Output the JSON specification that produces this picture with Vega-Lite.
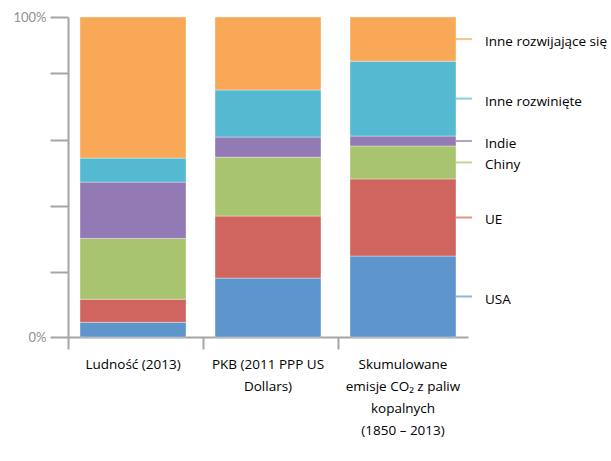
{
  "$schema": "https://vega.github.io/schema/vega-lite/v6.json",
  "width": 400,
  "height": 320,
  "autosize": {"type": "none"},
  "padding": {"left": 68, "top": 17, "right": 143, "bottom": 124},
  "background": "white",
  "config": {"view": {"stroke": null}},
  "data": {
    "values": [
      {"kategoria": "Ludność (2013)", "seria": "USA", "udzial": 4.6},
      {"kategoria": "Ludność (2013)", "seria": "UE", "udzial": 7.2},
      {"kategoria": "Ludność (2013)", "seria": "Chiny", "udzial": 19.0},
      {"kategoria": "Ludność (2013)", "seria": "Indie", "udzial": 17.6},
      {"kategoria": "Ludność (2013)", "seria": "Inne rozwinięte", "udzial": 7.5},
      {"kategoria": "Ludność (2013)", "seria": "Inne rozwijające się", "udzial": 44.1},
      {"kategoria": "PKB (2011 PPP US Dollars)", "seria": "USA", "udzial": 18.4},
      {"kategoria": "PKB (2011 PPP US Dollars)", "seria": "UE", "udzial": 19.4},
      {"kategoria": "PKB (2011 PPP US Dollars)", "seria": "Chiny", "udzial": 18.4},
      {"kategoria": "PKB (2011 PPP US Dollars)", "seria": "Indie", "udzial": 6.3},
      {"kategoria": "PKB (2011 PPP US Dollars)", "seria": "Inne rozwinięte", "udzial": 14.7},
      {"kategoria": "PKB (2011 PPP US Dollars)", "seria": "Inne rozwijające się", "udzial": 22.8},
      {"kategoria": "Skumulowane emisje CO₂ z paliw kopalnych (1850 – 2013)", "seria": "USA", "udzial": 25.3},
      {"kategoria": "Skumulowane emisje CO₂ z paliw kopalnych (1850 – 2013)", "seria": "UE", "udzial": 24.1},
      {"kategoria": "Skumulowane emisje CO₂ z paliw kopalnych (1850 – 2013)", "seria": "Chiny", "udzial": 10.3},
      {"kategoria": "Skumulowane emisje CO₂ z paliw kopalnych (1850 – 2013)", "seria": "Indie", "udzial": 3.1},
      {"kategoria": "Skumulowane emisje CO₂ z paliw kopalnych (1850 – 2013)", "seria": "Inne rozwinięte", "udzial": 23.4},
      {"kategoria": "Skumulowane emisje CO₂ z paliw kopalnych (1850 – 2013)", "seria": "Inne rozwijające się", "udzial": 13.8}
    ]
  },
  "transform": [
    {"calculate": "indexof(['USA','UE','Chiny','Indie','Inne rozwinięte','Inne rozwijające się'], datum.seria)", "as": "kolejnosc"}
  ],
  "encoding": {
    "x": {
      "field": "kategoria",
      "type": "nominal",
      "sort": null,
      "scale": {"paddingInner": 0.215, "paddingOuter": 0.089},
      "axis": {
        "title": null,
        "labelAngle": 0,
        "domainColor": "#a6a6a6",
        "domainWidth": 2,
        "tickColor": "#a6a6a6",
        "tickWidth": 2,
        "tickSize": 12,
        "bandPosition": -0.11,
        "labelPadding": 8,
        "labelBaseline": "top",
        "labelFont": "Open Sans",
        "labelFontSize": 13.5,
        "labelColor": "#000000",
        "labelLineHeight": 22,
        "labelExpr": "datum.value == 'PKB (2011 PPP US Dollars)' ? ['PKB (2011 PPP US', 'Dollars)'] : (indexof(datum.value, 'Skumulowane') == 0 ? ['Skumulowane', 'emisje CO₂ z paliw', 'kopalnych', '(1850 – 2013)'] : datum.label)"
      }
    },
    "color": {
      "field": "seria",
      "type": "nominal",
      "legend": null,
      "scale": {
        "domain": ["USA", "UE", "Chiny", "Indie", "Inne rozwinięte", "Inne rozwijające się"],
        "range": ["#5e95cc", "#cf655e", "#a9c46e", "#927ab4", "#55bad1", "#f9a858"]
      }
    }
  },
  "layer": [
    {
      "mark": {"type": "bar", "stroke": "#ffffff", "strokeWidth": 0.6, "strokeOpacity": 0.6},
      "encoding": {
        "y": {
          "field": "udzial",
          "type": "quantitative",
          "stack": "normalize",
          "scale": {"domain": [0, 1], "nice": false},
          "axis": {
            "title": null,
            "grid": false,
            "values": [0, 0.203, 0.41, 0.616, 0.825, 1],
            "labelExpr": "datum.value == 0 ? '0%' : (datum.value == 1 ? '100%' : '')",
            "domainColor": "#a6a6a6",
            "domainWidth": 2,
            "tickColor": "#a6a6a6",
            "tickWidth": 2,
            "tickSize": 18,
            "labelPadding": 4,
            "labelFont": "Lato",
            "labelFontSize": 13,
            "labelColor": "#909090"
          }
        },
        "order": {"field": "kolejnosc", "type": "quantitative"}
      }
    },
    {
      "transform": [
        {"stack": "udzial", "groupby": ["kategoria"], "sort": [{"field": "kolejnosc", "order": "ascending"}], "offset": "normalize", "as": ["v0", "v1"]},
        {"filter": "indexof(datum.kategoria, 'Skumulowane') == 0"},
        {"calculate": "(datum.v0 + datum.v1) / 2", "as": "srodek"}
      ],
      "layer": [
        {
          "mark": {"type": "tick", "size": 16, "thickness": 2, "xOffset": 61},
          "encoding": {
            "y": {"field": "srodek", "type": "quantitative"}
          }
        },
        {
          "mark": {"type": "text", "align": "left", "baseline": "middle", "dx": 82, "dy": 3, "font": "Open Sans", "fontSize": 13.5},
          "encoding": {
            "y": {"field": "srodek", "type": "quantitative"},
            "text": {"field": "seria"},
            "color": {"value": "#000000"}
          }
        }
      ]
    }
  ]
}
